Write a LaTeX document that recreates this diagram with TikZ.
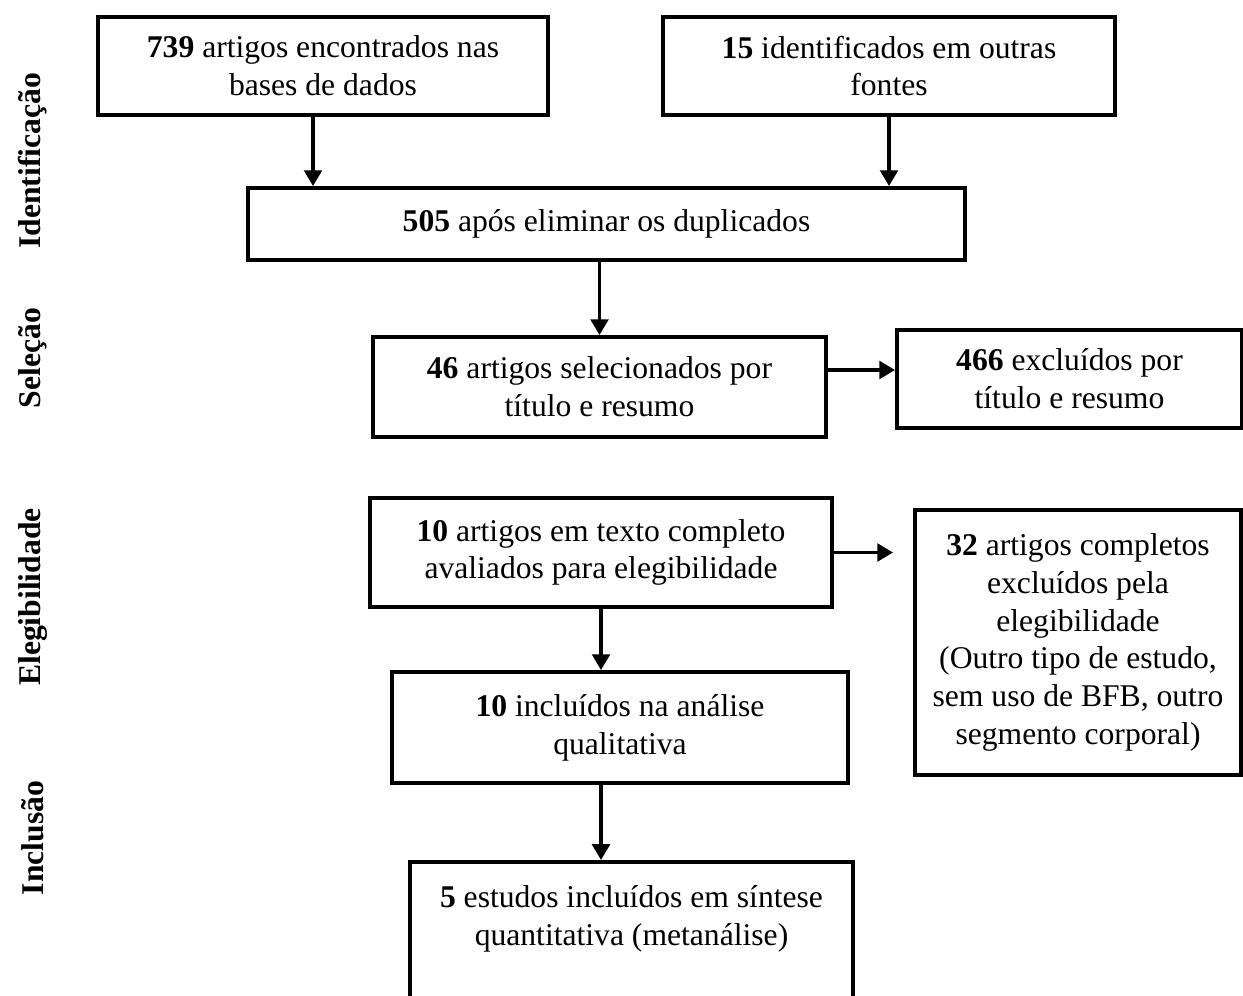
\documentclass[tikz,border=0pt]{standalone}
\usepackage{fontspec}
\setmainfont{Liberation Serif}
\usetikzlibrary{arrows.meta}

\begin{document}
\begin{tikzpicture}[x=0.02cm, y=-0.02cm,
    box/.style={draw, line width=2.2pt, align=center, inner sep=0pt,
      font=\fontsize{18}{21.5}\selectfont},
    arr/.style={line width=2.1pt, -{Triangle[width=10pt,length=9pt]}},
    phase/.style={rotate=90, font=\fontsize{18}{21.5}\selectfont\bfseries}]
    \useasboundingbox (0,0) rectangle (1243,996);

    % fases
    \node[phase] (idf) at (33,161) {Identificação};
    \node[phase] (sel) at (33,358) {Seleção};
    \node[phase] (ele) at (33,597) {Elegibilidade};
    \node[phase] (inc) at (33,838) {Inclusão};

    % caixas
    \node[box, minimum width=9cm, minimum height=1.96cm] (A) at (323,66)
      {\textbf{739} artigos encontrados nas\\ bases de dados};
    \node[box, minimum width=9.04cm, minimum height=1.96cm] (B) at (889,66)
      {\textbf{15} identificados em outras\\ fontes};
    \node[box, minimum width=14.34cm, minimum height=1.44cm] (C) at (606.5,224)
      {\textbf{505} após eliminar os duplicados};
    \node[box, minimum width=9.06cm, minimum height=2cm] (D) at (599.5,387)
      {\textbf{46} artigos selecionados por\\ título e resumo};
    \node[box, minimum width=6.9cm, minimum height=1.96cm] (E) at (1069.5,379)
      {\textbf{466} excluídos por\\ título e resumo};
    \node[box, minimum width=9.24cm, minimum height=2.18cm] (F) at (601,552.5)
      {\textbf{10} artigos em texto completo\\ avaliados para elegibilidade};
    \node[box, minimum width=6.52cm, minimum height=5.3cm] (G) at (1078,642.5)
      {\textbf{32} artigos completos\\ excluídos pela\\ elegibilidade\\ (Outro tipo de estudo,\\ sem uso de BFB, outro\\ segmento corporal)};
    \node[box, minimum width=9.12cm, minimum height=2.22cm] (H) at (620,727.5)
      {\textbf{10} incluídos na análise\\ qualitativa};
    \node[box, anchor=north, minimum width=8.86cm, text height=1.67cm, text depth=1.82cm] (I) at (631.5,860)
      {\textbf{5} estudos incluídos em síntese\\ quantitativa (metanálise)};

    % setas
    \coordinate (a1) at ([xshift=-0.2cm]A.south);
    \draw[arr] (a1) -- (a1 |- C.north);
    \draw[arr] (B.south) -- (B.south |- C.north);
    \draw[arr] (D.north |- C.south) -- (D.north);
    \coordinate (d1) at ([yshift=0.34cm]D.east);
    \draw[arr] (d1) -- (d1 -| E.west);
    \coordinate (g1) at ([xshift=-0.4cm]G.west);
    \draw[arr] (F.east) -- (F.east -| g1);
    \draw[arr] (F.south) -- (F.south |- H.north);
    \draw[arr] (H.south -| F.south) -- (I.north -| F.south);
\end{tikzpicture}
\end{document}
